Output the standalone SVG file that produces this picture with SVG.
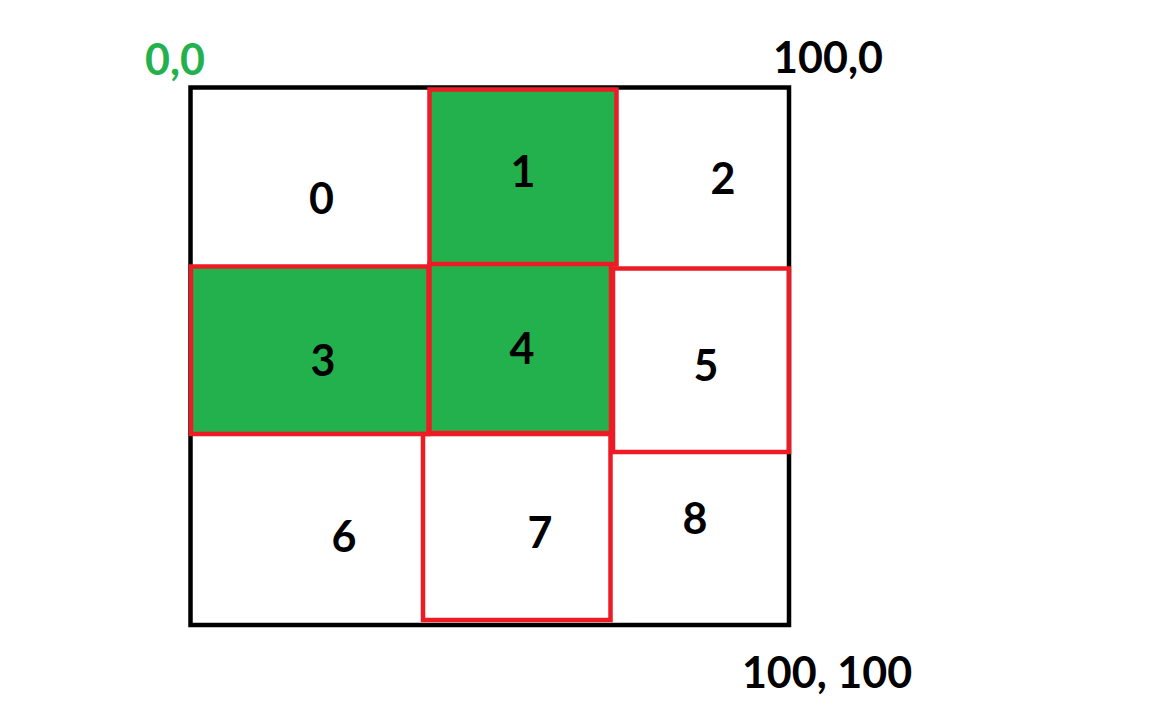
<svg xmlns="http://www.w3.org/2000/svg" width="1152" height="720" viewBox="0 0 1152 720">
<style>
.lbl{font-family:Lato,"Open Sans","Liberation Sans",sans-serif;font-weight:bold;font-size:43px;fill:#000;text-anchor:middle}
.cell{stroke:#ed1c24;stroke-width:4.5}
.on{fill:#22b14c}
.off{fill:none}
</style>
<rect width="1152" height="720" fill="#fff"/>
<g id="grid"><rect x="190.5" y="87.5" width="598.5" height="537.5" fill="none" stroke="#000" stroke-width="4.5"/></g>
<g id="cell1"><rect class="cell on" x="429.5" y="89.5" width="187" height="175"/></g>
<g id="cell3"><rect class="cell on" x="191" y="266.5" width="237.5" height="167.5"/></g>
<g id="cell4"><rect class="cell on" x="429.5" y="264" width="181.5" height="169"/></g>
<g id="cell5"><rect class="cell off" x="613" y="268.5" width="176" height="183.5"/></g>
<g id="cell7"><rect class="cell off" x="423" y="434" width="187.5" height="186"/></g>
<g id="labels">
<text class="lbl" x="321.5" y="214">0</text>
<text class="lbl" x="523" y="187">1</text>
<text class="lbl" x="723" y="194">2</text>
<text class="lbl" x="323" y="376">3</text>
<text class="lbl" x="522" y="364">4</text>
<text class="lbl" x="706" y="381">5</text>
<text class="lbl" x="344" y="552">6</text>
<text class="lbl" x="540" y="548">7</text>
<text class="lbl" x="695" y="534">8</text>
<text class="lbl" x="175" y="75" style="fill:#22b14c">0,0</text>
<text class="lbl" x="828" y="73">100,0</text>
<text class="lbl" x="827" y="688">100, 100</text>
</g>
<g id="connectors"/>
</svg>
